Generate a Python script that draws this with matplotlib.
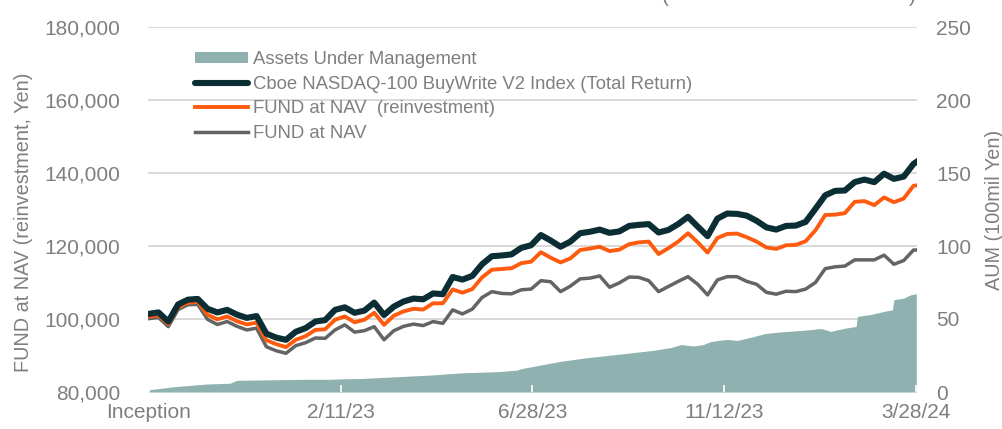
import matplotlib
matplotlib.use('Agg')
import matplotlib.pyplot as plt
from matplotlib.ticker import FuncFormatter
from matplotlib.patches import Patch
from matplotlib.lines import Line2D
import pandas as pd

plt.rcParams['font.family'] = ['Liberation Sans', 'DejaVu Sans']

# ---------------- data ----------------
inception = pd.Timestamp('2022-09-27')
end_date = pd.Timestamp('2024-03-28')
weekly_dates = list(pd.date_range(inception, periods=79, freq='7D')) + [end_date]

# values in thousands of yen
index_tr = [101.4, 101.8, 99.3, 104.0, 105.3, 105.5, 102.8, 101.8, 102.5, 101.2,
            100.3, 100.8, 96.0, 94.9, 94.3, 96.5, 97.5, 99.3, 99.7, 102.5,
            103.2, 101.7, 102.3, 104.5, 101.1, 103.4, 104.8, 105.6, 105.4, 107.0,
            106.8, 111.5, 110.8, 111.8, 115.0, 117.2, 117.4, 117.7, 119.5, 120.2,
            123.0, 121.5, 119.8, 121.2, 123.5, 123.9, 124.5, 123.6, 124.0, 125.5,
            125.8, 126.0, 123.7, 124.4, 126.0, 128.0, 125.3, 122.7, 127.5, 128.9,
            128.8, 128.3, 126.9, 125.1, 124.5, 125.5, 125.6, 126.6, 130.2, 133.9,
            135.1, 135.2, 137.5, 138.2, 137.5, 139.8, 138.4, 139.0, 142.5, 143.0]

fund_reinv = [100.7, 101.0, 98.6, 103.2, 104.5, 104.7, 101.2, 99.9, 100.7, 99.4,
              98.5, 99.0, 94.2, 93.1, 92.3, 94.3, 95.3, 97.0, 97.2, 99.8,
              100.7, 99.1, 99.8, 101.7, 98.4, 100.9, 102.1, 102.8, 102.6, 104.3,
              104.3, 108.1, 107.2, 108.2, 111.4, 113.5, 113.7, 113.9, 115.3, 115.7,
              118.3, 116.8, 115.5, 116.6, 118.9, 119.3, 119.8, 118.6, 119.0, 120.5,
              121.0, 121.2, 117.8, 119.4, 121.2, 123.5, 121.0, 118.2, 122.2, 123.3,
              123.4, 122.4, 121.2, 119.6, 119.2, 120.2, 120.3, 121.3, 124.3, 128.5,
              128.6, 129.0, 132.1, 132.3, 131.2, 133.3, 132.0, 133.0, 136.5, 136.6]

fund_nav = [100.1, 100.4, 97.9, 102.6, 103.9, 104.0, 99.9, 98.5, 99.3, 98.0,
            97.0, 97.5, 92.4, 91.3, 90.6, 92.7, 93.5, 94.8, 94.7, 97.0,
            98.4, 96.4, 96.8, 97.9, 94.3, 96.8, 98.0, 98.6, 98.2, 99.3,
            98.8, 102.5, 101.4, 102.7, 105.9, 107.5, 107.0, 106.9, 108.0, 108.2,
            110.5, 110.2, 107.5, 109.0, 111.0, 111.2, 111.8, 108.7, 109.9, 111.5,
            111.4, 110.5, 107.5, 108.9, 110.3, 111.6, 109.5, 106.6, 110.7, 111.6,
            111.6, 110.3, 109.5, 107.3, 106.8, 107.6, 107.5, 108.2, 110.0, 113.8,
            114.3, 114.5, 116.2, 116.2, 116.2, 117.5, 115.0, 116.0, 118.9, 118.9]

# AUM (100mil yen), days since inception
aum_days = [0, 18, 42, 58, 63, 113, 130, 137, 153, 178, 201, 225, 249, 263, 266,
            280, 294, 313, 337, 360, 373, 380, 389, 396, 401, 408, 413, 420, 430,
            440, 449, 468, 480, 487, 496, 505, 506, 515, 525, 531, 532, 539, 544, 548]
aum_values = [1.5, 3.6, 5.5, 6.0, 8.0, 8.7, 8.7, 9.0, 9.3, 10.5, 11.6, 13.2, 13.9, 15.0, 16.0,
              18.5, 21.0, 23.5, 26.0, 28.5, 30.5, 32.5, 31.5, 32.5, 34.5, 35.5, 36.0, 35.3, 37.5,
              40.0, 41.0, 42.3, 43.5, 41.5, 43.5, 44.9, 51.8, 53.0, 55.2, 56.3, 63.2, 64.3, 66.6, 67.3]
aum_dates = [inception + pd.Timedelta(days=d) for d in aum_days]

tick_dates = pd.to_datetime(['2022-09-27', '2023-02-11', '2023-06-28', '2023-11-12', '2024-03-28'])
tick_labels = ['Inception', '2/11/23', '6/28/23', '11/12/23', '3/28/24']

labels = ['Assets Under Management',
          'Cboe NASDAQ-100 BuyWrite V2 Index (Total Return)',
          'FUND at NAV  (reinvestment)',
          'FUND at NAV']

# ---------------- style ----------------
C_AUM = '#8FB1B0'
C_IDX = '#0B2E35'
C_REINV = '#FF5B0F'
C_NAV = '#646464'
C_TXT = '#7F7F7F'
C_GRID = '#D9D9D9'

W, H = 1003, 429
fig = plt.figure(figsize=(W / 100, H / 100), dpi=100)
ax = fig.add_axes([148 / W, 37 / H, 769 / W, 365 / H])
ax2 = ax.twinx()
ax.set_zorder(ax2.get_zorder() + 1)
ax.patch.set_visible(False)

# AUM area on right axis
ax2.fill_between(aum_dates, aum_values, 0, color=C_AUM, lw=0, zorder=2)
ax2.set_ylim(0, 250)
ax2.set_yticks(range(0, 251, 50))
ax2.grid(axis='y', color=C_GRID, lw=1.4, zorder=0)
ax2.set_axisbelow(True)

# lines on left axis
k = 1000
ax.plot(weekly_dates, [v * k for v in fund_nav], color=C_NAV, lw=2.5, solid_joinstyle='round')
ax.plot(weekly_dates, [v * k for v in fund_reinv], color=C_REINV, lw=2.8, solid_joinstyle='round')
ax.plot(weekly_dates, [v * k for v in index_tr], color=C_IDX, lw=4.4, solid_joinstyle='round')
ax.set_ylim(80000, 180000)
ax.set_yticks(range(80000, 180001, 20000))
ax.yaxis.set_major_formatter(FuncFormatter(lambda v, p: f'{int(v):,}'))

ax.set_xlim(inception - pd.Timedelta(hours=12), end_date + pd.Timedelta(hours=12))
ax.set_xticks(tick_dates)
ax.set_xticklabels(tick_labels)

for a in (ax, ax2):
    for s in a.spines.values():
        s.set_visible(False)

ax.tick_params(axis='x', direction='in', length=5, width=1.2, color='white',
               labelsize=15, labelcolor=C_TXT, pad=8)
ax.tick_params(axis='y', length=0, labelsize=15, labelcolor=C_TXT, pad=20)
ax2.tick_params(axis='y', length=0, labelsize=15, labelcolor=C_TXT, pad=14)
ax2.tick_params(axis='x', length=0)

ax.set_ylabel('FUND at NAV (reinvestment, Yen)', fontsize=14.3, color=C_TXT)
ax.yaxis.set_label_coords(-0.149, 0.466)
ax2.set_ylabel('AUM (100mil Yen)', fontsize=14.3, color=C_TXT)
ax2.yaxis.set_label_coords(1.088, 0.5)

handles = [Patch(facecolor=C_AUM, edgecolor='none'),
           Line2D([], [], color=C_IDX, lw=4.4, solid_capstyle='round'),
           Line2D([], [], color=C_REINV, lw=2.8),
           Line2D([], [], color=C_NAV, lw=2.5)]
fig.legend(handles, labels, loc='upper left', bbox_to_anchor=(195 / W, 1 - 51 / H),
           frameon=False, fontsize=13.3, handlelength=2.85, handletextpad=0.28,
           labelspacing=0.41, borderpad=0, borderaxespad=0, labelcolor=C_TXT,
           handleheight=0.55)

# partially cropped header text at the very top (cut off in the reference as well)
fig.text(665 / W, 1 - 1.5 / H, '(', fontsize=15, color=C_TXT, ha='center', va='baseline')
fig.text(912 / W, 1 - 1.5 / H, ')', fontsize=15, color=C_TXT, ha='center', va='baseline')

fig.savefig('out.png', dpi=100)
